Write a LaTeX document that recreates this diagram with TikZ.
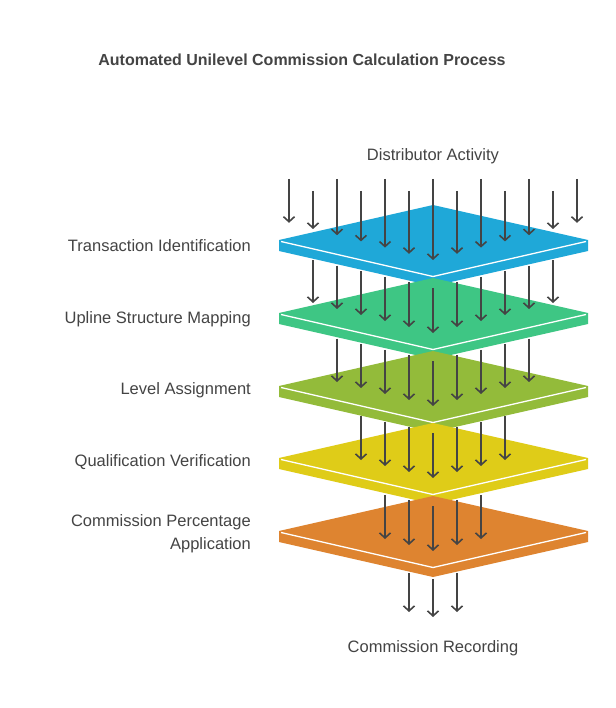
\documentclass[tikz,border=0pt]{standalone}
\usepackage{fontspec}
\setmainfont{Liberation Sans}
\usetikzlibrary{arrows.meta}
\definecolor{txt}{HTML}{444444}
\definecolor{cA}{HTML}{1FA8D8}
\definecolor{cB}{HTML}{3EC684}
\definecolor{cC}{HTML}{93BB3A}
\definecolor{cD}{HTML}{DFCC18}
\definecolor{cE}{HTML}{DE8430}
\tikzset{
  arr/.style={draw=txt,line width=1.6pt,-{Straight Barb[length=5pt,width=11pt,line width=1.6pt]}},
  lbl/.style={text=txt,font=\fontsize{16.5}{23}\selectfont,align=right,inner sep=0pt},
}
\newcommand{\layer}[2]{%
  \fill[#2] (279,#1) -- (433,#1-35) -- (588,#1) -- (588,#1+11) -- (433,#1+46) -- (279,#1+11) -- cycle;
  \draw[white,line width=1.3pt] (281,#1+1.5) -- (433,#1+36.5) -- (586,#1+1.5);
}
\begin{document}
\begin{tikzpicture}[x=1pt,y=-1pt]
\useasboundingbox[fill=white] (0,0) rectangle (615,708);
\node[text=txt,font=\bfseries\fontsize{16}{20}\selectfont,inner sep=0pt] (title) at (302,60) {Automated Unilevel Commission Calculation Process};
\node[lbl] (top) at (433,156) {Distributor Activity};
\node[lbl] (bot) at (433,648) {Commission Recording};
\node[lbl,anchor=east] (l1) at (251,246) {Transaction Identification};
\node[lbl,anchor=east] (l2) at (251,319) {Upline Structure Mapping};
\node[lbl,anchor=east] (l3) at (251,390) {Level Assignment};
\node[lbl,anchor=east] (l4) at (251,462) {Qualification Verification};
\node[lbl,anchor=east] (l5) at (251,534) {Commission Percentage\\Application};
% layers
\layer{240}{cA}
\layer{313}{cB}
\layer{386}{cC}
\layer{458}{cD}
\layer{531}{cE}
% top arrows
\foreach \k in {-6,...,6}{
  \pgfmathsetmacro{\a}{abs(\k)}
  \pgfmathsetmacro{\s}{mod(\a,2)==0 ? 179 : 191}
  \draw[arr] (433+24*\k,\s) -- (433+24*\k,260-6.2*\a);
}
% between layers
\foreach \c/\n in {313/5,386/4,458/3,531/2}{
  \foreach \k in {-\n,...,\n}{
    \pgfmathsetmacro{\a}{abs(\k)}
    \draw[arr] (433+24*\k,\c-73+48-5.6*\a) -- (433+24*\k,\c+20-6*\a);
  }
}
% bottom arrows
\foreach \k in {-1,0,1}{
  \pgfmathsetmacro{\a}{abs(\k)}
  \draw[arr] (433+24*\k,579-5.6*\a) -- (433+24*\k,617-5*\a);
}
\end{tikzpicture}
\end{document}
